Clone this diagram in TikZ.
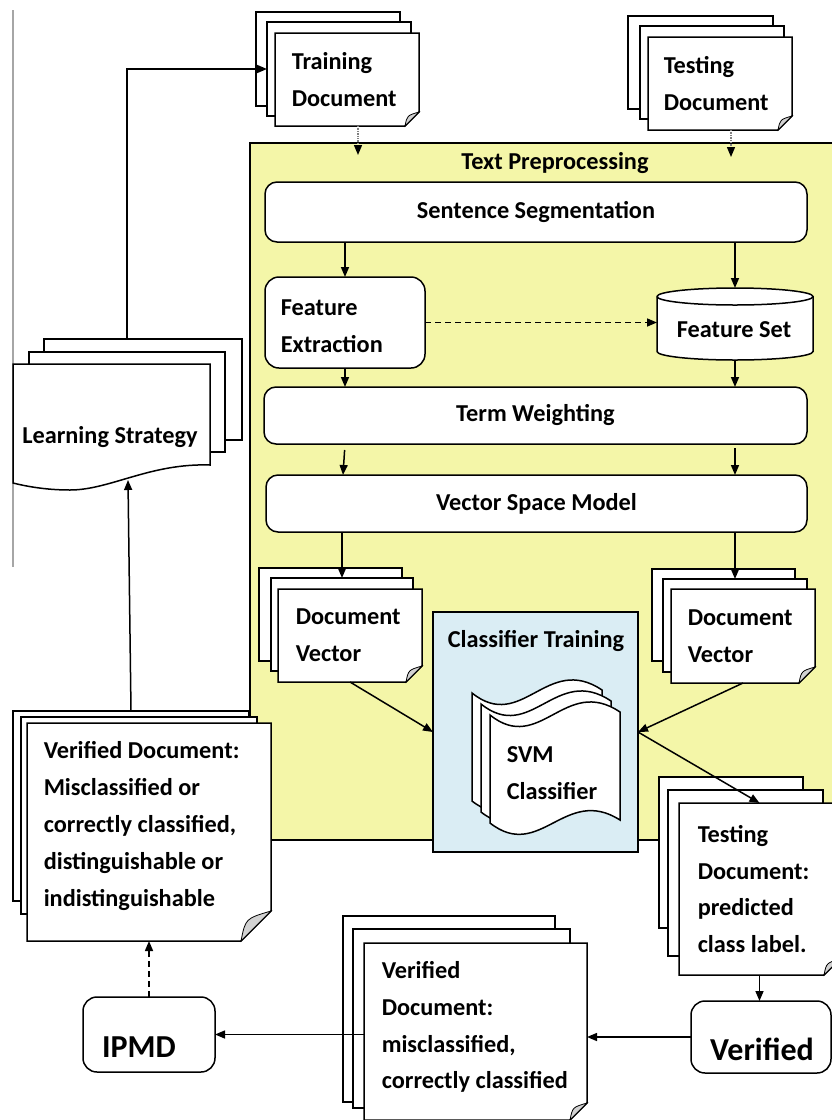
\documentclass[tikz,border=0pt]{standalone}
\usepackage{fontspec}
\setmainfont{Carlito}
\usetikzlibrary{arrows.meta,calc}
\definecolor{ylw}{RGB}{244,246,168}
\definecolor{lblue}{RGB}{218,237,244}
\newcommand\lblfont{\fontsize{24.3}{36.8}\selectfont\bfseries}
\newcommand\bigfont{\fontsize{32}{36}\selectfont\bfseries}
\tikzset{
  pg/.style={draw, fill=white, anchor=north west, inner sep=0pt, outer sep=0pt},
  pgn/.style={draw=none, anchor=north west, inner sep=0pt, outer sep=0pt},
  rbox/.style={draw, fill=white, anchor=north west, inner sep=0pt, outer sep=0pt},
  txt/.style={inner sep=0pt, align=left, anchor=west, font=\lblfont},
  ctxt/.style={inner sep=0pt, align=center, font=\lblfont},
  arr/.style={-{Triangle[length=10pt,width=8pt]}, line width=1.5pt},
  dotarr/.style={densely dotted, draw=gray, line width=1.4pt, -{Triangle[length=10pt,width=8pt,color=black]}},
  dasharr/.style={dash pattern=on 6pt off 4pt, line width=1.5pt, -{Triangle[length=10pt,width=8pt]}},
}
\newcommand\Pg[5]{\node[pg, minimum width={(#4-#2)*1pt}, minimum height={(#5-#3)*1pt}] (#1) at (#2,#3) {};}
\newcommand\FPg[6]{%
  \node[pgn, minimum width={(#4-#2)*1pt}, minimum height={(#5-#3)*1pt}] (#1) at (#2,#3) {};
  \filldraw[fill=white] (#1.north west) -- (#1.north east) -- ([yshift=#6pt]#1.south east) -- ([xshift=-#6pt]#1.south east) -- (#1.south west) -- cycle;
  \filldraw[fill=gray!35, line width=0.8pt] ([yshift=#6pt]#1.south east) .. controls ([xshift={-0.85*#6pt}, yshift={0.75*#6pt}]#1.south east) .. ([xshift=-#6pt]#1.south east) -- cycle;
}
\newcommand\RB[7]{\node[rbox, rounded corners=#6pt, minimum width={(#4-#2)*1pt}, minimum height={(#5-#3)*1pt}, font=\lblfont] (#1) at (#2,#3) {#7};}
\newcommand\svmlayer[2]{%
  \filldraw[fill=white] (490+#1,715+#2) .. controls (540+#1,755+#2) and (565+#1,675+#2) .. (620+#1,712+#2)
    -- (620+#1,820+#2) .. controls (565+#1,785+#2) and (540+#1,862+#2) .. (490+#1,823+#2) -- cycle;
}
\begin{document}
\begin{tikzpicture}[x=1pt,y=-1pt,line width=1.5pt]
\useasboundingbox (0,0) rectangle (832,1120);
\clip (0,0) rectangle (832,1120);
\fill[white] (0,0) rectangle (832,1120);

% left gray rule
\draw[gray!70, line width=1.5pt] (13,10) -- (13,567);

% text preprocessing region
\node[pg, fill=ylw, minimum width=600pt, minimum height=697pt] (pre) at (250,143) {};
\node[ctxt] (pret) at (555,163) {Text Preprocessing};

% training document
\Pg{tr1}{256}{12}{400}{106}
\Pg{tr2}{267}{22}{411}{116}
\FPg{tr3}{275}{33}{419}{126}{14}
\node[txt] (trt) at ([xshift=16pt]tr3.west) {Training\\Document};

% testing document
\Pg{te1}{628}{16}{773}{109}
\Pg{te2}{640}{26}{784}{119}
\FPg{te3}{648}{37}{792}{130}{14}
\node[txt] (tet) at ([xshift=15pt]te3.west) {Testing\\Document};

% processing steps
\RB{ss}{265}{182}{807}{242}{12}{Sentence Segmentation}
\RB{fe}{265}{277}{425}{368}{14}{}
\node[txt] (fet) at (280,326) {Feature\\Extraction};
\node[pgn, minimum width=156pt, minimum height=72pt] (fs) at (657,288) {};
\filldraw[fill=white] (657,296.5) -- (657,351.5) arc[start angle=180,end angle=360,x radius=78pt,y radius=8.5pt]
  -- (813,296.5) arc[start angle=0,end angle=180,x radius=78pt,y radius=8.5pt] -- cycle;
\draw (657,296.5) arc[start angle=180,end angle=360,x radius=78pt,y radius=8.5pt];
\node[ctxt] (fst) at (734,330) {Feature Set};
\RB{tw}{264}{387}{807}{444}{12}{Term Weighting}
\RB{vsm}{266}{475}{807}{532}{12}{Vector Space Model}

% document vectors
\Pg{dvl1}{259}{568}{402}{661}
\Pg{dvl2}{271}{578}{413}{671}
\FPg{dvl3}{278}{589}{422}{682}{16}
\node[txt] (dvlt) at ([xshift=17pt]dvl3.west) {Document\\Vector};
\Pg{dvr1}{652}{569}{795}{661}
\Pg{dvr2}{663}{579}{807}{672}
\FPg{dvr3}{671}{589}{815}{683}{16}
\node[txt] (dvrt) at ([xshift=16pt]dvr3.west) {Document\\Vector};

% classifier training
\node[pg, fill=lblue, minimum width=205pt, minimum height=240pt] (ct) at (433,612) {};
\node[ctxt] (ctt) at (536,641) {Classifier Training};
\svmlayer{-18}{-22}
\svmlayer{-9}{-11}
\svmlayer{0}{0}
\node[txt] (svm) at (506,773) {SVM\\Classifier};

% testing document: predicted
\Pg{tp1}{659}{777}{803}{928}
\Pg{tp2}{668}{790}{823}{956}
\FPg{tp3}{679}{803}{840}{975}{16}
\node[txt] (tpt) at ([xshift=18pt]tp3.west) {Testing\\Document:\\predicted\\class label.};

% left verified document
\Pg{lv1}{13}{711}{249}{901}
\Pg{lv2}{21}{717}{257}{914}
\FPg{lv3}{27}{723}{271}{941}{30}
\node[txt] (lvt) at (43,826) {Verified Document:\\Misclassified or\\correctly classified,\\distinguishable or\\indistinguishable};

% learning strategy
\Pg{ls1}{44}{339}{242}{440}
\Pg{ls2}{29}{352}{225}{452}
\filldraw[fill=white] (13,364) -- (210,364) -- (210,465) .. controls (150,463) and (110,490) .. (70,490)
  .. controls (45,490) and (25,486) .. (13,483) -- cycle;
\node[ctxt] (lst) at (110,437) {Learning Strategy};
\coordinate (lsb) at (128,480);

% bottom verified document
\Pg{vd1}{343}{916}{555}{1102}
\Pg{vd2}{353}{929}{570}{1108}
\FPg{vd3}{364}{943}{587}{1120}{17}
\node[txt] (vdt) at (381,1027) {Verified\\Document:\\misclassified,\\correctly classified};

% IPMD and Verified
\RB{ipmd}{83}{997}{215}{1072}{14}{}
\node[inner sep=0pt, font=\bigfont] (ipmdt) at (139,1047) {IPMD};
\RB{ver}{691}{1001}{831}{1073}{14}{}
\node[inner sep=0pt, font=\bigfont] (vert) at (762,1049) {Verified};

% connectors
\coordinate (trin) at (358,155);
\coordinate (tein) at (731,157);
\draw[arr] ([xshift=83pt]ls1.north west) |- (tr2.west);
\draw[dotarr] (tr3.south -| trin) -- (trin);
\draw[dotarr] (te3.south -| tein) -- (tein);
\draw[arr] (ss.south -| fe.north) -- (fe.north);
\draw[arr] (ss.south -| fs.north) -- (fs.north);
\draw[dasharr] (fe.east) -- (fe.east -| fs.west);
\draw[arr] (fe.south) -- (fe.south |- tw.north);
\draw[arr] (fs.south) -- (fs.south |- tw.north);
\draw[arr, shorten <=6pt] (tw.south -| fe.south) -- ([xshift=-2pt]vsm.north -| fe.south);
\draw[arr, shorten <=4pt] (tw.south -| fs.south) -- (vsm.north -| fs.south);
\draw[arr] (vsm.south -| dvl2.north) -- (dvl2.north);
\draw[arr] (vsm.south -| dvr2.north) -- (dvr2.north);
\draw[arr] (dvl3.south) -- (ct.west);
\draw[arr] (dvr3.south) -- (ct.east);
\draw[arr] (ct.east) -- (tp3.north);
\draw[arr] (tp3.south) -- (tp3.south |- ver.north);
\draw[arr] (ver.west) -- (ver.west -| vd3.east);
\draw[arr] (vd3.west |- ipmd.east) -- (ipmd.east);
\draw[dasharr] (ipmd.north) -- (ipmd.north |- lv3.south);
\draw[arr] (lv1.north) -- (lsb);
\end{tikzpicture}
\end{document}
